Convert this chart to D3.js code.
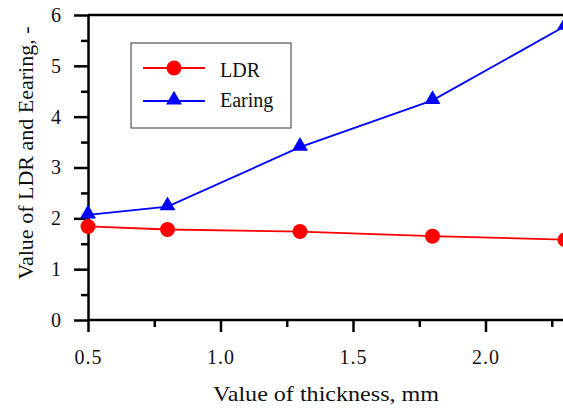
<!DOCTYPE html>
<html>
<head>
<meta charset="utf-8">
<script src="https://cdn.jsdelivr.net/npm/d3@7"></script>
<style>
  body { margin: 0; background: #fff; }
  svg text { font-family: "Liberation Serif", "Times New Roman", serif !important; }
</style>
</head>
<body>
<div id="chart"></div>
<script>
const thickness = [0.5, 0.8, 1.3, 1.8, 2.3];
const ldrValues = [1.84, 1.78, 1.74, 1.65, 1.58];
const earingValues = [2.07, 2.23, 3.40, 4.32, 5.78];
const xTicks = [0.5, 1.0, 1.5, 2.0];
const xMinorTicks = [0.75, 1.25, 1.75, 2.25];
const yTicks = [0, 1, 2, 3, 4, 5, 6];
const yMinorTicks = [0.5, 1.5, 2.5, 3.5, 4.5, 5.5];

const chartWidth = 563;
const chartHeight = 408;
const plotLeft = 88, plotTop = 15, plotBottom = 320;

const svg = d3.select("#chart")
    .append("svg")
    .attr("width", chartWidth)
    .attr("height", chartHeight)

const x = d3.scaleLinear()
    .domain([0.5, 2.3])
    .range([plotLeft, plotLeft + 1.8 * 265])

const y = d3.scaleLinear()
    .domain([0, 6])
    .range([plotBottom, plotTop])

// minor ticks first
svg.append("g")
    .attr("transform", "translate(0," + plotBottom + ")")
    .call(d3.axisBottom(x).tickValues(xMinorTicks).tickSize(7).tickFormat(""))
    .call(g => g.select(".domain").remove())
    .call(g => g.selectAll("line").attr("stroke-width", 2.5))

svg.append("g")
    .attr("transform", "translate(" + plotLeft + ",0)")
    .call(d3.axisLeft(y).tickValues(yMinorTicks).tickSize(7).tickFormat(""))
    .call(g => g.select(".domain").remove())
    .call(g => g.selectAll("line").attr("stroke-width", 2.5))

// main axes
svg.append("g")
    .attr("transform", "translate(0," + plotBottom + ")")
    .call(d3.axisBottom(x).tickValues(xTicks).tickSize(12).tickSizeOuter(0).tickPadding(18).tickFormat(d3.format(".1f")))
    .call(g => g.select(".domain").attr("stroke-width", 2.5).attr("d", "M" + plotLeft + ",0H" + (chartWidth + 5)))
    .call(g => g.selectAll("line").attr("stroke-width", 2.5))
    .call(g => g.selectAll("text").attr("font-size", 20).attr("letter-spacing", 1).attr("fill", "#111"))

svg.append("g")
    .attr("transform", "translate(" + plotLeft + ",0)")
    .call(d3.axisLeft(y).tickValues(yTicks).tickSize(14).tickSizeOuter(0).tickPadding(13).tickFormat(d3.format("d")))
    .call(g => g.select(".domain").attr("stroke-width", 2.5))
    .call(g => g.selectAll("line").attr("stroke-width", 2.5))
    .call(g => g.selectAll("text").attr("font-size", 20).attr("fill", "#111"))

// top frame line
svg.append("line")
    .attr("x1", plotLeft).attr("x2", chartWidth + 5)
    .attr("y1", y(6)).attr("y2", y(6))
    .attr("stroke", "#000").attr("stroke-width", 2.5)

const line = d3.line()
    .x(d => x(d[0]))
    .y(d => y(d[1]))

const ldr = thickness.map((t, i) => [t, ldrValues[i]])
const earing = thickness.map((t, i) => [t, earingValues[i]])

const tri = d3.symbol().type(d3.symbolTriangle).size(110)

svg.append("path")
    .datum(ldr)
    .attr("d", line)
    .attr("fill", "none")
    .attr("stroke", "red")
    .attr("stroke-width", 1.8)

svg.append("path")
    .datum(earing)
    .attr("d", line)
    .attr("fill", "none")
    .attr("stroke", "blue")
    .attr("stroke-width", 1.8)

svg.selectAll(".ldr-pt")
    .data(ldr)
    .enter()
    .append("circle")
        .attr("class", "ldr-pt")
        .attr("cx", d => x(d[0]))
        .attr("cy", d => y(d[1]))
        .attr("r", 7.5)
        .attr("fill", "red")

svg.selectAll(".ear-pt")
    .data(earing)
    .enter()
    .append("path")
        .attr("class", "ear-pt")
        .attr("transform", d => "translate(" + x(d[0]) + "," + (y(d[1]) - 1) + ")")
        .attr("d", tri)
        .attr("fill", "blue")

// legend
const legend = svg.append("g")
legend.append("rect")
    .attr("x", 131).attr("y", 43)
    .attr("width", 160).attr("height", 85)
    .attr("fill", "#fff")
    .attr("stroke", "#333")
    .attr("stroke-width", 1)

legend.append("line")
    .attr("x1", 143).attr("x2", 205).attr("y1", 68).attr("y2", 68)
    .attr("stroke", "red").attr("stroke-width", 1.8)
legend.append("circle")
    .attr("cx", 174).attr("cy", 68).attr("r", 7.5).attr("fill", "red")
legend.append("text")
    .attr("x", 220).attr("y", 77)
    .attr("font-size", 20).attr("fill", "#111")
    .text("LDR")

legend.append("line")
    .attr("x1", 143).attr("x2", 205).attr("y1", 101).attr("y2", 101)
    .attr("stroke", "blue").attr("stroke-width", 1.8)
legend.append("path")
    .attr("transform", "translate(174,100)")
    .attr("d", tri)
    .attr("fill", "blue")
legend.append("text")
    .attr("x", 220).attr("y", 107)
    .attr("font-size", 20).attr("fill", "#111")
    .text("Earing")

// axis titles
svg.append("text")
    .attr("x", 326).attr("y", 401)
    .attr("text-anchor", "middle")
    .attr("font-size", 22).attr("fill", "#111")
    .attr("textLength", 226)
    .attr("lengthAdjust", "spacingAndGlyphs")
    .text("Value of thickness, mm")

svg.append("text")
    .attr("transform", "translate(33,153) rotate(-90)")
    .attr("text-anchor", "middle")
    .attr("font-size", 22).attr("fill", "#111")
    .text("Value of LDR and Eearing, -")
</script>
</body>
</html>
